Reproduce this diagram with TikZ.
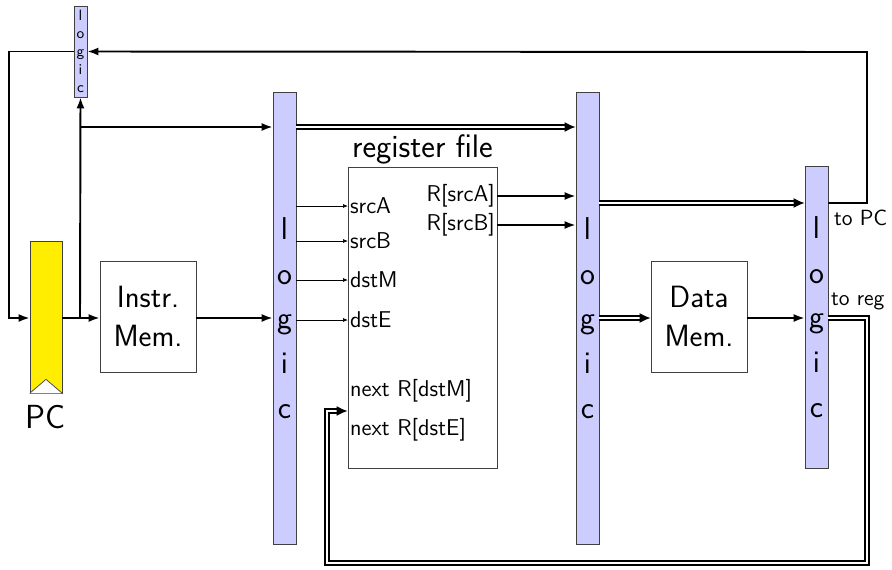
\documentclass[tikz,border=0pt]{standalone}
\usepackage{tikz}
\usetikzlibrary{arrows.meta,positioning}
\definecolor{logic-fill}{RGB}{204,204,255}
\definecolor{pc-fill}{RGB}{255,238,0}
\definecolor{box-line}{RGB}{64,64,64}

\begin{document}
\begin{tikzpicture}[
    x=0.02cm, y=-0.02cm,
    font=\sffamily,
    logic bar/.style={
        draw=box-line,
        fill=logic-fill,
        minimum width=0.46cm,
        inner sep=0pt,
        align=center,
        font=\sffamily\fontsize{18}{25.5}\selectfont
    },
    unit box/.style={
        draw=box-line,
        fill=white,
        minimum width=1.92cm,
        minimum height=2.22cm,
        align=center,
        font=\sffamily\fontsize{17.5}{22}\selectfont
    },
    port label/.style={inner sep=1pt, font=\sffamily\fontsize{13}{15}\selectfont},
    side label/.style={inner sep=1pt, anchor=west, font=\sffamily\fontsize{12.5}{14}\selectfont},
    wire/.style={line width=1.1pt, -{Latex[length=2.2mm,width=1.6mm]}},
    thin wire/.style={thin, -{Latex[length=1mm,width=0.8mm]}},
    bus/.style={line width=0.9pt, double, double distance=1.3pt, -{Latex[length=2.2mm,width=2mm]}}
]
\useasboundingbox (0,0) rectangle (892,569);

% Pipeline blocks
\node[logic bar, minimum width=0.26cm, minimum height=1.82cm,
      font=\sffamily\fontsize{8.5}{10.3}\selectfont] (logicS) at (80.5,51.5) {l\\o\\g\\i\\c};
\node[draw=box-line, fill=pc-fill, minimum width=0.64cm, minimum height=3.04cm] (pc) at (46,317) {};
\draw[draw=box-line, fill=white] (pc.south west) -- ([yshift=0.28cm]pc.south) -- (pc.south east);
\node[font=\sffamily\fontsize{19}{22}\selectfont, below=3pt of pc] (pclabel) {PC};

\node[unit box] (imem) at (148,316.5) {Instr.\\Mem.};
\node[logic bar, minimum height=9.04cm] (logicA) at (284.5,318) {l\\o\\g\\i\\c};
\node[draw=box-line, minimum width=2.98cm, minimum height=6.02cm] (regfile) at (422.5,317.5) {};
\node[font=\sffamily\fontsize{18.5}{21}\selectfont, above=-2pt of regfile] (rftitle) {register file};
\node[logic bar, minimum height=9.04cm] (logicB) at (587.5,318) {l\\o\\g\\i\\c};
\node[unit box] (dmem) at (699,316.5) {Data\\Mem.};
\node[logic bar, minimum height=6.04cm] (logicC) at (816.5,317) {l\\o\\g\\i\\c};

% Register file ports
\node[port label, anchor=west] (srcA) at (348,206) {srcA};
\node[port label, anchor=west] (srcB) at (348,241) {srcB};
\node[port label, anchor=west] (dstM) at (348,280) {dstM};
\node[port label, anchor=west] (dstE) at (348,320) {dstE};
\node[port label, anchor=west] (nextM) at (348,391) {next R[dstM]};
\node[port label, anchor=west] (nextE) at (348,430) {next R[dstE]};
\node[port label, anchor=east] (valA) at (497,196) {R[srcA]};
\node[port label, anchor=east] (valB) at (497,225) {R[srcB]};

\node[side label] (topc) at (832,218) {to PC};
\node[side label] (toreg) at (829,301) {to reg};

% Routing points
\coordinate (rowA) at (0,127);
\coordinate (rowB) at (0,203);
\coordinate (rowM) at (0,318);
\coordinate (fork) at (80,318);
\coordinate (fbL) at (9,318);
\coordinate (fbR) at (867,52);
\coordinate (wbR) at (867,563);
\coordinate (wbL) at (327,411);

% Fetch
\draw[wire] (pc.east |- rowM) -- (imem.west |- rowM);
\draw[wire] (fork) -- (logicS.south);
\draw[wire] (fork |- rowA) -- (logicA.west |- rowA);
\draw[wire] (imem.east |- rowM) -- (logicA.west |- rowM);
\draw[wire] (logicS.west) -| (fbL) -- (pc.west |- rowM);

% Decode
\foreach \p in {srcA,srcB,dstM,dstE}
    \draw[thin wire] (logicA.east |- \p.west) -- (\p.west);
\draw[bus] (logicA.east |- rowA) -- (logicB.west |- rowA);
\draw[wire] (valA.east) -- (logicB.west |- valA.east);
\draw[wire] (valB.east) -- (logicB.west |- valB.east);

% Execute / memory
\draw[bus] (logicB.east |- rowB) -- (logicC.west |- rowB);
\draw[bus] (logicB.east |- rowM) -- (dmem.west |- rowM);
\draw[wire] (dmem.east |- rowM) -- (logicC.west |- rowM);

% Write back
\draw[wire] (logicC.east |- rowB) -| (fbR) -- (logicS.east);
\draw[bus] (logicC.east |- rowM) -| (wbR) -| (wbL) -- (regfile.west |- wbL);

\end{tikzpicture}
\end{document}
